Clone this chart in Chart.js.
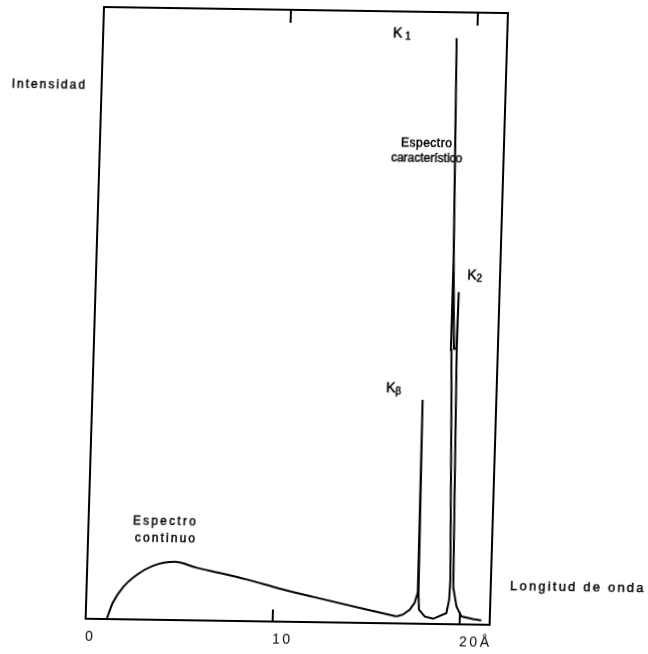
<!DOCTYPE html>
<html>
<head>
<meta charset="utf-8">
<style>
  html, body { margin: 0; padding: 0; background: #fff; overflow: hidden; }
  /* the original drawing sits slightly askew on the page */
  #wrap { position: absolute; left: 0; top: 0; width: 700px; height: 654px;
          transform-origin: 0 0; transform: matrix(1, 0.015, -0.03, 1, 9.3, -4.4); }
</style>
<script src="https://cdn.jsdelivr.net/npm/chart.js@4.4.1/dist/chart.umd.min.js"></script>
</head>
<body>
<div id="wrap"><canvas id="c" width="700" height="654"></canvas></div>
<script>
// Continuous spectrum (wavelength in Å, intensity in arbitrary units 0-100)
const continuumX = [1.12, 1.43, 1.94, 2.67, 3.51, 4.68, 5.86, 7.10, 8.55, 10.33, 12.10, 16.61];
const continuumY = [0, 2.7, 5.2, 7.3, 8.8, 9.5, 8.6, 7.8, 6.8, 5.4, 4.15, 1.14];

// Characteristic lines: K-beta, then the K1 / K2 doublet and its tail
const lineX = [16.61, 16.94, 17.31, 17.56, 17.71, 17.66, 17.75, 17.80, 18.12, 18.57,
               19.27, 19.40, 19.43, 19.20, 19.12, 19.09, 18.90, 19.10, 19.25, 19.38,
               19.42, 19.40, 19.60, 19.80, 20.08, 20.70, 21.15];
const lineY = [1.14, 1.44, 2.27, 3.43, 5.1, 36.6, 5.0, 2.3, 1.2, 0.85,
               1.8, 4.0, 7.3, 36.7, 44.8, 59.5, 95.8, 59.5, 45.0, 45.0,
               54.3, 45.0, 6.0, 2.9, 1.3, 0.9, 0.7];

// Axis ticks
const xTickValues = [0, 10, 20];
const xTickLabels = ['0', '10', '20Å'];
const topTickValues = [10, 20];

const FAMILY = '"Liberation Sans", Arial, Helvetica, sans-serif';
const INK = '#000';

// Free text placed on the drawing
const notes = [
  { text: 'Intensidad',       x: 5,     y: 89,    size: 12, spacing: 2.0 },
  { text: 'Espectro',         x: 396,   y: 141.5, size: 12, spacing: 0.5 },
  { text: 'característico',   x: 386.4, y: 156.6, size: 12, spacing: 0 },
  { text: 'Espectro',         x: 139.3, y: 523.3, size: 12, spacing: 2.2 },
  { text: 'continuo',         x: 141.8, y: 540.3, size: 12, spacing: 2.1 },
  { text: 'Longitud de onda', x: 518.3, y: 583.3, size: 13, spacing: 2.2 }
];
const lineNames = [
  { main: 'K', sub: '1', x: 384.7, y: 32.6, gap: 3 },
  { main: 'K', sub: '2', x: 466.2, y: 273,  gap: 0 },
  { main: 'K', sub: 'β', x: 388.4, y: 387,  gap: 0 }
];

const tickSpacing = {
  id: 'tickSpacing',
  beforeDraw(chart) { chart.ctx.letterSpacing = '2.5px'; },
  beforeDatasetsDraw(chart) { chart.ctx.letterSpacing = '0px'; }
};

function inkText(c, s, x, y) {
  c.fillText(s, x, y);
  c.strokeText(s, x, y);
}

const annotations = {
  id: 'annotations',
  afterDraw(chart) {
    const c = chart.ctx;
    c.save();
    c.fillStyle = INK;
    c.strokeStyle = INK;
    c.lineWidth = 0.45;
    c.textBaseline = 'middle';
    c.textAlign = 'left';
    notes.forEach(n => {
      c.font = n.size + 'px ' + FAMILY;
      c.letterSpacing = n.spacing + 'px';
      inkText(c, n.text, n.x, n.y);
    });
    c.letterSpacing = '0px';
    lineNames.forEach(k => {
      c.font = '14px ' + FAMILY;
      inkText(c, k.main, k.x, k.y);
      const w = c.measureText(k.main).width;
      c.font = '10px ' + FAMILY;
      inkText(c, k.sub, k.x + w + k.gap, k.y + 3);
    });
    c.restore();
  }
};

const toPoints = (xs, ys) => xs.map((x, i) => ({ x: x, y: ys[i] }));
const frame = { display: true, color: INK, width: 2 };

new Chart(document.getElementById('c'), {
  type: 'scatter',
  data: {
    datasets: [
      {
        label: 'Espectro continuo',
        data: toPoints(continuumX, continuumY),
        showLine: true,
        cubicInterpolationMode: 'monotone',
        borderColor: INK,
        borderWidth: 2,
        pointRadius: 0
      },
      {
        label: 'Espectro característico',
        data: toPoints(lineX, lineY),
        showLine: true,
        tension: 0,
        borderColor: INK,
        borderWidth: 2,
        pointRadius: 0
      }
    ]
  },
  options: {
    responsive: false,
    animation: false,
    events: [],
    layout: { padding: { left: 95, right: 201, top: 10, bottom: 0 } },
    plugins: { legend: { display: false }, tooltip: { enabled: false } },
    scales: {
      x: {
        type: 'linear', position: 'bottom', min: 0, max: 21.6,
        afterBuildTicks: s => { s.ticks = xTickValues.map(v => ({ value: v })); },
        afterFit: s => { s.height = 32; },
        ticks: {
          align: 'start', padding: 22, color: INK, autoSkip: false, maxRotation: 0,
          font: { family: FAMILY, size: 14 },
          callback: (v, i) => xTickLabels[i]
        },
        grid: {
          drawOnChartArea: false, drawTicks: true, tickLength: -12, lineWidth: 2,
          color: c => (c.tick && c.tick.value === 0) ? 'rgba(0,0,0,0)' : INK
        },
        border: frame
      },
      x2: {
        type: 'linear', position: 'top', min: 0, max: 21.6,
        afterBuildTicks: s => { s.ticks = topTickValues.map(v => ({ value: v })); },
        afterFit: s => { s.height = 0; },
        ticks: { display: false },
        grid: { drawOnChartArea: false, drawTicks: true, tickLength: -13, lineWidth: 2, color: INK },
        border: frame
      },
      y: {
        type: 'linear', position: 'left', min: 0, max: 100,
        afterFit: s => { s.width = 0; },
        ticks: { display: false },
        grid: { display: false },
        border: frame
      },
      y2: {
        type: 'linear', position: 'right', min: 0, max: 100,
        afterFit: s => { s.width = 0; },
        ticks: { display: false },
        grid: { display: false },
        border: frame
      }
    }
  },
  plugins: [tickSpacing, annotations]
});
</script>
</body>
</html>
